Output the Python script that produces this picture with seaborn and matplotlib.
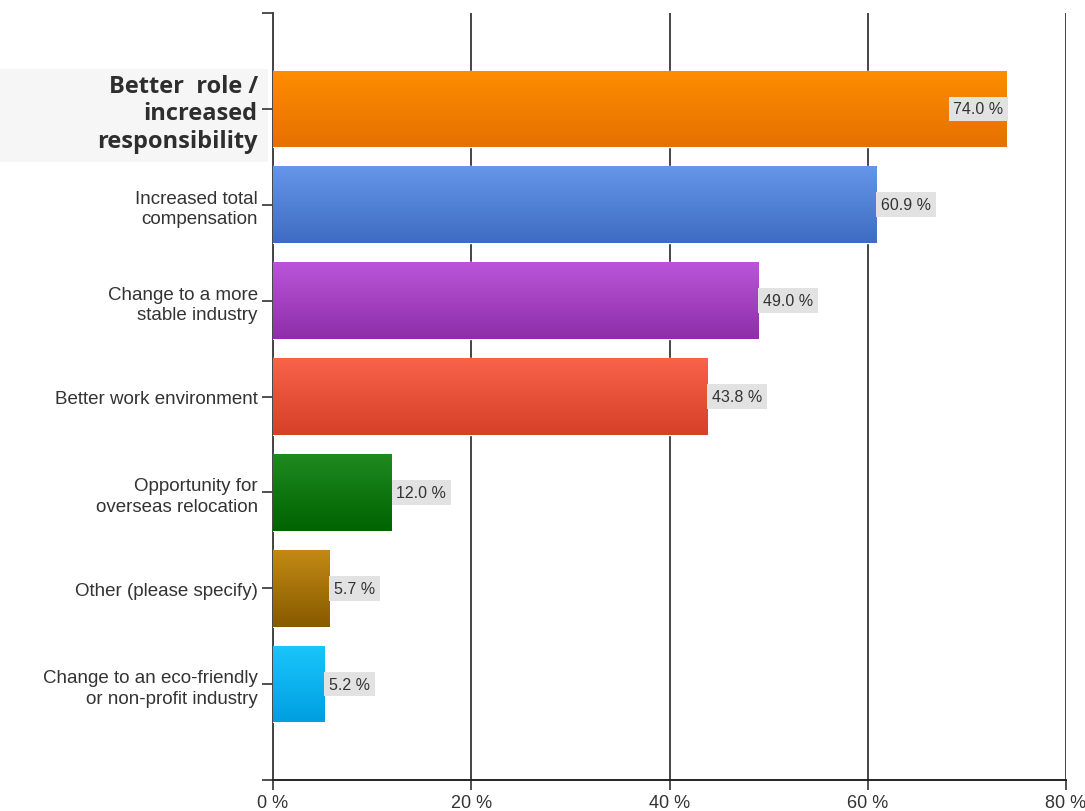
import numpy as np
import pandas as pd
import matplotlib
matplotlib.use("Agg")
import matplotlib.pyplot as plt
import matplotlib.colors as mcolors
from matplotlib.patches import Rectangle
import seaborn as sns

categories = [
    "Better  role /\nincreased\nresponsibility",
    "Increased total\ncompensation",
    "Change to a more\nstable industry",
    "Better work environment",
    "Opportunity for\noverseas relocation",
    "Other (please specify)",
    "Change to an eco-friendly\nor non-profit industry",
]
values = [74.0, 60.9, 49.0, 43.8, 12.0, 5.7, 5.2]
top_colors = ["#ff8d00", "#6596ea", "#ba55da", "#f9634a", "#1f8a1f", "#c28a14", "#1ac6fb"]
bottom_colors = ["#e67000", "#3e6cc2", "#8e2ea8", "#d63f28", "#006300", "#885a00", "#009fe0"]
xticks = [0, 20, 40, 60, 80]
xtick_labels = ["0 %", "20 %", "40 %", "60 %", "80 %"]

sns.set_theme(style="white")
plt.rcParams["font.family"] = ["Liberation Sans", "DejaVu Sans"]

df = pd.DataFrame({"cat": categories, "val": values})

fig = plt.figure(figsize=(10.85, 8.12), dpi=100)
fig.patch.set_facecolor("white")
# light background behind highlighted label
fig.patches.append(Rectangle((0, 1 - 163 / 812), 268 / 1085, 93 / 812,
                             transform=fig.transFigure, facecolor="#f6f6f6",
                             edgecolor="none", zorder=-5))
ax = fig.add_axes([273 / 1085, 1 - 781 / 812, (1066 - 273) / 1085, (781 - 14) / 812])
ax.set_facecolor("none")

sns.barplot(data=df, x="val", y="cat", hue="cat", palette=top_colors, orient="h",
            width=0.8, legend=False, ax=ax, saturation=1, zorder=3)

# gradient fill clipped to each bar
for i, patch in enumerate(ax.patches):
    x0, y0 = patch.get_x(), patch.get_y()
    w, h = patch.get_width(), patch.get_height()
    cmap = mcolors.LinearSegmentedColormap.from_list("g", [top_colors[i], bottom_colors[i]])
    grad = np.linspace(0, 1, 100).reshape(-1, 1)
    im = ax.imshow(grad, cmap=cmap, aspect="auto", extent=[x0, x0 + w, y0 + h, y0],
                   zorder=4, origin="upper")
    im.set_clip_path(patch)

ax.set_xlim(0, 80)
ax.set_ylim(7, -1)
ax.set_xlabel("")
ax.set_ylabel("")

ax.set_xticks(xticks)
ax.set_xticklabels(xtick_labels, fontsize=13, color="#333333")
ax.set_yticks([-1] + list(range(len(categories))) + [7])
ax.set_yticklabels([""] + categories + [""], fontsize=13.5, color="#333333",
                   linespacing=1.28)
ylabels = ax.get_yticklabels()
ylabels[1].set_fontfamily(["Open Sans", "DejaVu Sans"])
ylabels[1].set_fontweight("bold")
ylabels[1].set_fontsize(17)
ylabels[1].set_linespacing(1.18)
ylabels[1].set_color("#2e2e2e")

ax.tick_params(axis="y", which="both", left=True, length=8, width=1.2, color="#333333", pad=3)
ax.tick_params(axis="x", which="both", bottom=True, length=7, width=1.2, color="#333333", pad=3)

ax.grid(axis="x", color="#444444", linewidth=1.4, zorder=1)
ax.grid(axis="y", visible=False)
for s in ["top", "right"]:
    ax.spines[s].set_visible(False)
ax.spines["left"].set_color("#444444")
ax.spines["left"].set_linewidth(1.4)
ax.spines["bottom"].set_color("#222222")
ax.spines["bottom"].set_linewidth(1.4)

# value labels
for i, v in enumerate(values):
    inside = v + 6.5 > 80
    ax.text(v - 0.3 if inside else v + 0.45, i, f"{v:.1f} %",
            ha="right" if inside else "left", va="center", fontsize=11.5, color="#333333",
            zorder=6,
            bbox=dict(boxstyle="square,pad=0.3", facecolor="#e2e2e2", edgecolor="none"))

fig.savefig("out.png", dpi=100)
